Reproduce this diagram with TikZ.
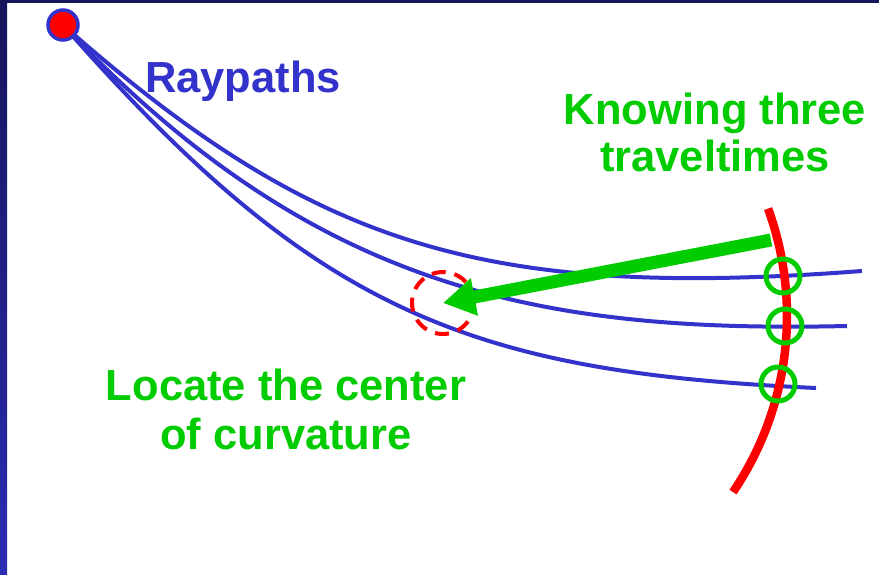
\documentclass[tikz,border=0pt]{standalone}
\usepackage{fontspec}
\setmainfont{Liberation Sans}
\usetikzlibrary{arrows.meta}
\definecolor{rayblue}{HTML}{3333CC}
\definecolor{lblgreen}{HTML}{00CC00}
\definecolor{hotred}{HTML}{FF0000}
\definecolor{navytop}{HTML}{15155A}
\definecolor{navybot}{HTML}{2C2CB4}
\tikzset{
  ray/.style={draw=rayblue, line width=4pt, line join=round},
  lbl/.style={font=\fontsize{43.5}{48}\selectfont\bfseries, inner sep=0pt},
  hit/.style={draw=lblgreen, line width=5pt, circle, minimum size=34pt, inner sep=0pt},
}
\begin{document}
\begin{tikzpicture}[x=1pt,y=-1pt]
\useasboundingbox (0,0) rectangle (879,575);
\fill[white] (0,0) rectangle (879,575);
\shade[top color=navytop, bottom color=navybot] (0,0) rectangle (7,575);
\fill[navytop] (0,0) rectangle (879,3);

\node[circle, inner sep=0pt, minimum size=0pt] (src) at (63,25) {};
\coordinate (e1) at (862,271);
\coordinate (e2) at (847,326);
\coordinate (e3) at (816,388);

% raypaths
\draw[ray] (src.center) .. controls (313,245) and (480,300) .. (e1);
\draw[ray] (src.center) .. controls (313,290) and (540,333) .. (e2);
\draw[ray] (src.center) .. controls (313,310) and (466,372) .. (e3);

% wavefront
\draw[hotred, line width=8.5pt] (473,316) ++(-20:314) arc[start angle=-20, end angle=34.1, radius=314];

% center of curvature
\node[circle, draw=hotred, line width=4pt, dash pattern=on 14pt off 9pt, minimum size=62pt, inner sep=0pt] (cc) at (443,303) {};

% traveltime picks
\node[hit] (h1) at (783,276) {};
\node[hit] (h2) at (785,326) {};
\node[hit] (h3) at (778,384) {};

% arrow
\coordinate (as) at (771,240);
\draw[lblgreen, line width=13pt, -{Triangle[length=32pt,width=36pt]}] (as) -- (cc.center);

% source
\node[circle, fill=hotred, draw=rayblue, line width=3.5pt, minimum size=30pt, inner sep=0pt] (dot) at (src) {};

% labels
\node[lbl, text=rayblue, anchor=base west] (t0) at (145,93) {Raypaths};
\node[lbl, text=lblgreen, anchor=base] (t1) at (715,125) {Knowing three};
\node[lbl, text=lblgreen, anchor=base] (t2) at (715,172) {traveltimes};
\node[lbl, text=lblgreen, anchor=base] (t3) at (286,400) {Locate the center};
\node[lbl, text=lblgreen, anchor=base] (t4) at (286,449) {of curvature};
\end{tikzpicture}
\end{document}
